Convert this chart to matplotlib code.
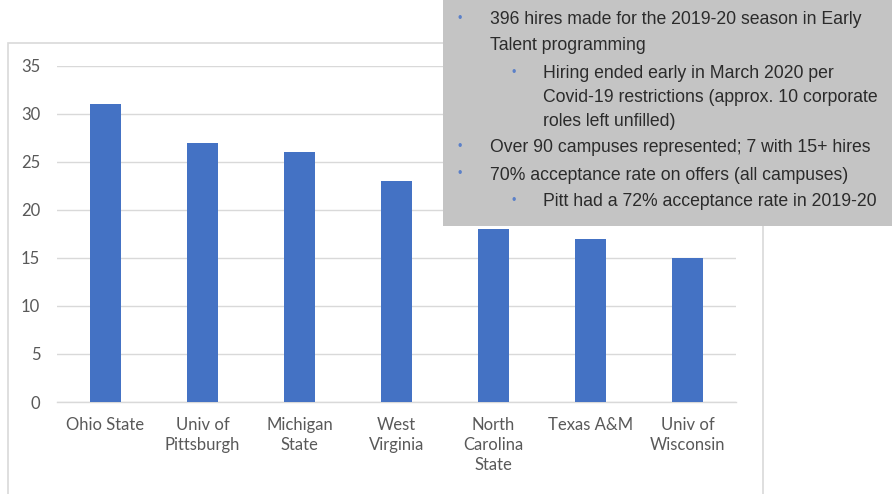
import matplotlib
matplotlib.use("Agg")
import matplotlib.pyplot as plt
from matplotlib.patches import Rectangle

categories = ["Ohio State", "Univ of\nPittsburgh", "Michigan\nState", "West\nVirginia",
              "North\nCarolina\nState", "Texas A&M", "Univ of\nWisconsin"]
hires = [31, 27, 26, 23, 18, 17, 15]
yticks = [0, 5, 10, 15, 20, 25, 30, 35]

notes = [
    (1, ["396 hires made for the 2019-20 season in Early", "Talent programming"]),
    (2, ["Hiring ended early in March 2020 per",
         "Covid-19 restrictions (approx. 10 corporate", "roles left unfilled)"]),
    (1, ["Over 90 campuses represented; 7 with 15+ hires"]),
    (1, ["70% acceptance rate on offers (all campuses)"]),
    (2, ["Pitt had a 72% acceptance rate in 2019-20"]),
]

W, H = 892, 494
fig = plt.figure(figsize=(W / 100, H / 100), dpi=100)
fig.patch.set_facecolor("white")

# outer chart frame
fig.patches.append(Rectangle((8 / W, -0.02), (763 - 8) / W, (H - 43) / H + 0.02,
                             transform=fig.transFigure, fill=False,
                             edgecolor="#d9d9d9", linewidth=1.2, zorder=0))

ax = fig.add_axes([57 / W, (H - 402) / H, (736 - 57) / W, (402 - 66) / H])
x = list(range(len(categories)))
ax.bar(x, hires, width=0.31, color="#4472c4", zorder=3)
ax.set_xlim(-0.5, len(categories) - 0.5)
ax.set_ylim(0, 35)
ax.set_yticks(yticks)
ax.yaxis.grid(True, color="#d9d9d9", linewidth=1.0, zorder=0)
ax.set_axisbelow(True)
for s in ["top", "right", "left"]:
    ax.spines[s].set_visible(False)
ax.spines["bottom"].set_color("#d9d9d9")
ax.spines["bottom"].set_linewidth(1.0)
ax.tick_params(axis="both", length=0, colors="#595959", labelsize=12)
ax.tick_params(axis="y", pad=12)
ax.tick_params(axis="x", pad=11)
ax.set_xticks(x)
ax.set_xticklabels(categories, fontfamily="Lato", linespacing=1.3, color="#595959")
for lab in ax.get_yticklabels():
    lab.set_fontfamily("Lato")

# text box overlay
fig.patches.append(Rectangle((443 / W, (H - 226) / H), (W - 443) / W, 226 / H,
                             transform=fig.transFigure, facecolor="#c4c4c4",
                             edgecolor="none", zorder=5))

line_y = [20, 46, 74, 98, 122, 148, 175, 202]
i = 0
for level, lines in notes:
    bx = 460 if level == 1 else 514
    tx = 490 if level == 1 else 543
    fig.text(bx / W, 1 - (line_y[i] - 1) / H, "•", fontsize=9, color="#5b80c8",
             ha="center", va="center", zorder=6, fontfamily="Liberation Sans")
    for ln in lines:
        fig.text(tx / W, 1 - line_y[i] / H, ln, fontsize=12.7, color="#2b2b2b",
                 ha="left", va="center", zorder=6, fontfamily="Liberation Sans")
        i += 1

fig.savefig("out.png", dpi=100)
